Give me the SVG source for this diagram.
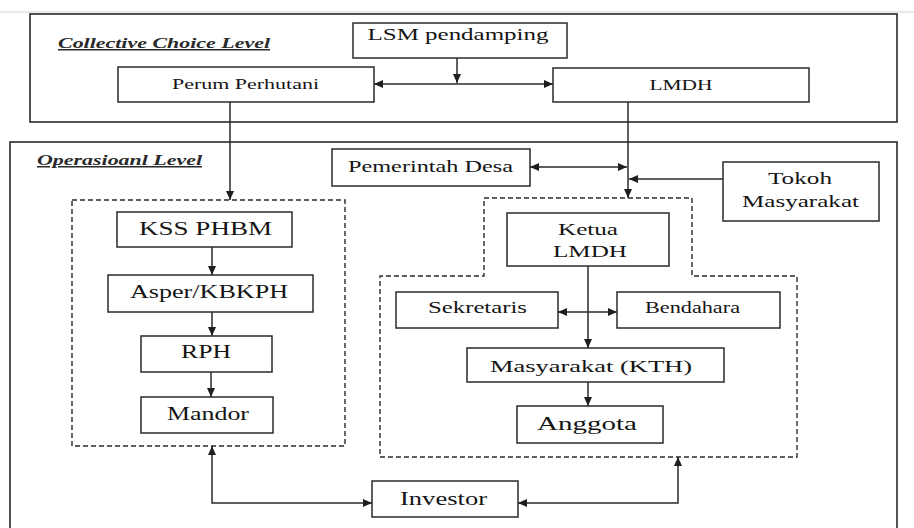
<svg xmlns="http://www.w3.org/2000/svg" width="914" height="528" viewBox="0 0 914 528">
<style>
.box{fill:#fff;stroke:#2a2a2a;stroke-width:1.5}
.frame{fill:none;stroke:#2a2a2a;stroke-width:1.6}
.dash{fill:none;stroke:#2a2a2a;stroke-width:1.4;stroke-dasharray:5 3}
.t{font-family:'Liberation Serif','Times New Roman',serif;fill:#151515;text-anchor:middle}
.h{font-family:'Liberation Serif','Times New Roman',serif;fill:#2a2a2a;font-weight:bold;font-style:italic;font-size:15px;text-decoration:underline}
.c{fill:none;stroke:#2a2a2a;stroke-width:1.5}
</style>
<defs>
<marker id="ah" viewBox="0 0 9 8" refX="9" refY="4" markerWidth="9" markerHeight="8" markerUnits="userSpaceOnUse" orient="auto-start-reverse">
<path d="M0,0 L9,4 L0,8 z" fill="#1e1e1e"/>
</marker>
</defs>
<rect width="914" height="528" fill="#fff"/>
<line x1="0" y1="12" x2="914" y2="12" stroke="#c9d2da" stroke-width="1"/>

<g id="collective-level">
<rect class="frame" x="30" y="14" width="867" height="108"/>
<text class="h" x="58" y="48" textLength="212" lengthAdjust="spacingAndGlyphs">Collective Choice Level</text>
</g>
<g id="operational-level">
<rect class="frame" x="10" y="142" width="887" height="400"/>
<text class="h" x="37" y="165" textLength="165" lengthAdjust="spacingAndGlyphs">Operasioanl Level</text>
</g>
<g id="group-perhutani">
<rect class="dash" x="72" y="200" width="273" height="246"/>
</g>
<g id="group-lmdh">
<path class="dash" d="M484,198 H692 V276 H797 V457 H380 V276 H484 Z"/>
</g>

<g id="connectors">
<line class="c" x1="457" y1="58" x2="457" y2="83" marker-end="url(#ah)"/>
<line class="c" x1="374" y1="84" x2="553" y2="84" marker-start="url(#ah)" marker-end="url(#ah)"/>
<line class="c" x1="230" y1="102" x2="230" y2="200" marker-end="url(#ah)"/>
<line class="c" x1="628" y1="102" x2="628" y2="198" marker-end="url(#ah)"/>
<line class="c" x1="530" y1="167" x2="627" y2="167" marker-start="url(#ah)" marker-end="url(#ah)"/>
<line class="c" x1="723" y1="179" x2="629" y2="179" marker-end="url(#ah)"/>
<line class="c" x1="212" y1="247" x2="212" y2="275" marker-end="url(#ah)"/>
<line class="c" x1="212" y1="312" x2="212" y2="336" marker-end="url(#ah)"/>
<line class="c" x1="211" y1="372" x2="211" y2="397" marker-end="url(#ah)"/>
<line class="c" x1="588" y1="266" x2="588" y2="348" marker-end="url(#ah)"/>
<line class="c" x1="558" y1="312" x2="617" y2="312" marker-start="url(#ah)" marker-end="url(#ah)"/>
<line class="c" x1="588" y1="382" x2="588" y2="406" marker-end="url(#ah)"/>
<path class="c" d="M212,446 V503 H372" marker-start="url(#ah)" marker-end="url(#ah)"/>
<path class="c" d="M518,503 H678 V457" marker-start="url(#ah)" marker-end="url(#ah)"/>
</g>

<g id="lsm-pendamping">
<rect class="box" x="353" y="23" width="214" height="35"/>
<text class="t" x="458" y="40" font-size="17" textLength="181" lengthAdjust="spacingAndGlyphs">LSM pendamping</text>
</g>
<g id="perum-perhutani">
<rect class="box" x="118" y="67" width="256" height="35"/>
<text class="t" x="245.5" y="89" font-size="15" textLength="147" lengthAdjust="spacingAndGlyphs">Perum Perhutani</text>
</g>
<g id="lmdh">
<rect class="box" x="553" y="68" width="256" height="34"/>
<text class="t" x="681" y="90" font-size="15" textLength="63" lengthAdjust="spacingAndGlyphs">LMDH</text>
</g>
<g id="pemerintah-desa">
<rect class="box" x="332" y="149" width="198" height="37"/>
<text class="t" x="430.5" y="172" font-size="17" textLength="165" lengthAdjust="spacingAndGlyphs">Pemerintah Desa</text>
</g>
<g id="tokoh-masyarakat">
<rect class="box" x="723" y="162" width="156" height="59"/>
<text class="t" x="800" y="184" font-size="17" textLength="64" lengthAdjust="spacingAndGlyphs">Tokoh</text>
<text class="t" x="800.5" y="207" font-size="17" textLength="117" lengthAdjust="spacingAndGlyphs">Masyarakat</text>
</g>
<g id="kss-phbm">
<rect class="box" x="117" y="212" width="175" height="35"/>
<text class="t" x="205.5" y="235" font-size="18" textLength="133" lengthAdjust="spacingAndGlyphs">KSS PHBM</text>
</g>
<g id="asper-kbkph">
<rect class="box" x="108" y="275" width="205" height="37"/>
<text class="t" x="209" y="298" font-size="18" textLength="158" lengthAdjust="spacingAndGlyphs">Asper/KBKPH</text>
</g>
<g id="rph">
<rect class="box" x="141" y="336" width="131" height="36"/>
<text class="t" x="206" y="358" font-size="18" textLength="50" lengthAdjust="spacingAndGlyphs">RPH</text>
</g>
<g id="mandor">
<rect class="box" x="141" y="397" width="132" height="36"/>
<text class="t" x="208" y="420" font-size="18" textLength="82" lengthAdjust="spacingAndGlyphs">Mandor</text>
</g>
<g id="ketua-lmdh">
<rect class="box" x="507" y="213" width="162" height="53"/>
<text class="t" x="588" y="235" font-size="17" textLength="60" lengthAdjust="spacingAndGlyphs">Ketua</text>
<text class="t" x="590" y="257" font-size="17" textLength="74" lengthAdjust="spacingAndGlyphs">LMDH</text>
</g>
<g id="sekretaris">
<rect class="box" x="396" y="292" width="162" height="36"/>
<text class="t" x="477.5" y="313" font-size="17" textLength="99" lengthAdjust="spacingAndGlyphs">Sekretaris</text>
</g>
<g id="bendahara">
<rect class="box" x="617" y="292" width="163" height="36"/>
<text class="t" x="692.5" y="313" font-size="17" textLength="95" lengthAdjust="spacingAndGlyphs">Bendahara</text>
</g>
<g id="masyarakat-kth">
<rect class="box" x="467" y="348" width="257" height="34"/>
<text class="t" x="591" y="372" font-size="17" textLength="202" lengthAdjust="spacingAndGlyphs">Masyarakat (KTH)</text>
</g>
<g id="anggota">
<rect class="box" x="517" y="406" width="146" height="37"/>
<text class="t" x="587" y="430" font-size="18" textLength="100" lengthAdjust="spacingAndGlyphs">Anggota</text>
</g>
<g id="investor">
<rect class="box" x="372" y="481" width="146" height="36"/>
<text class="t" x="443.5" y="505" font-size="18" textLength="87" lengthAdjust="spacingAndGlyphs">Investor</text>
</g>
</svg>
